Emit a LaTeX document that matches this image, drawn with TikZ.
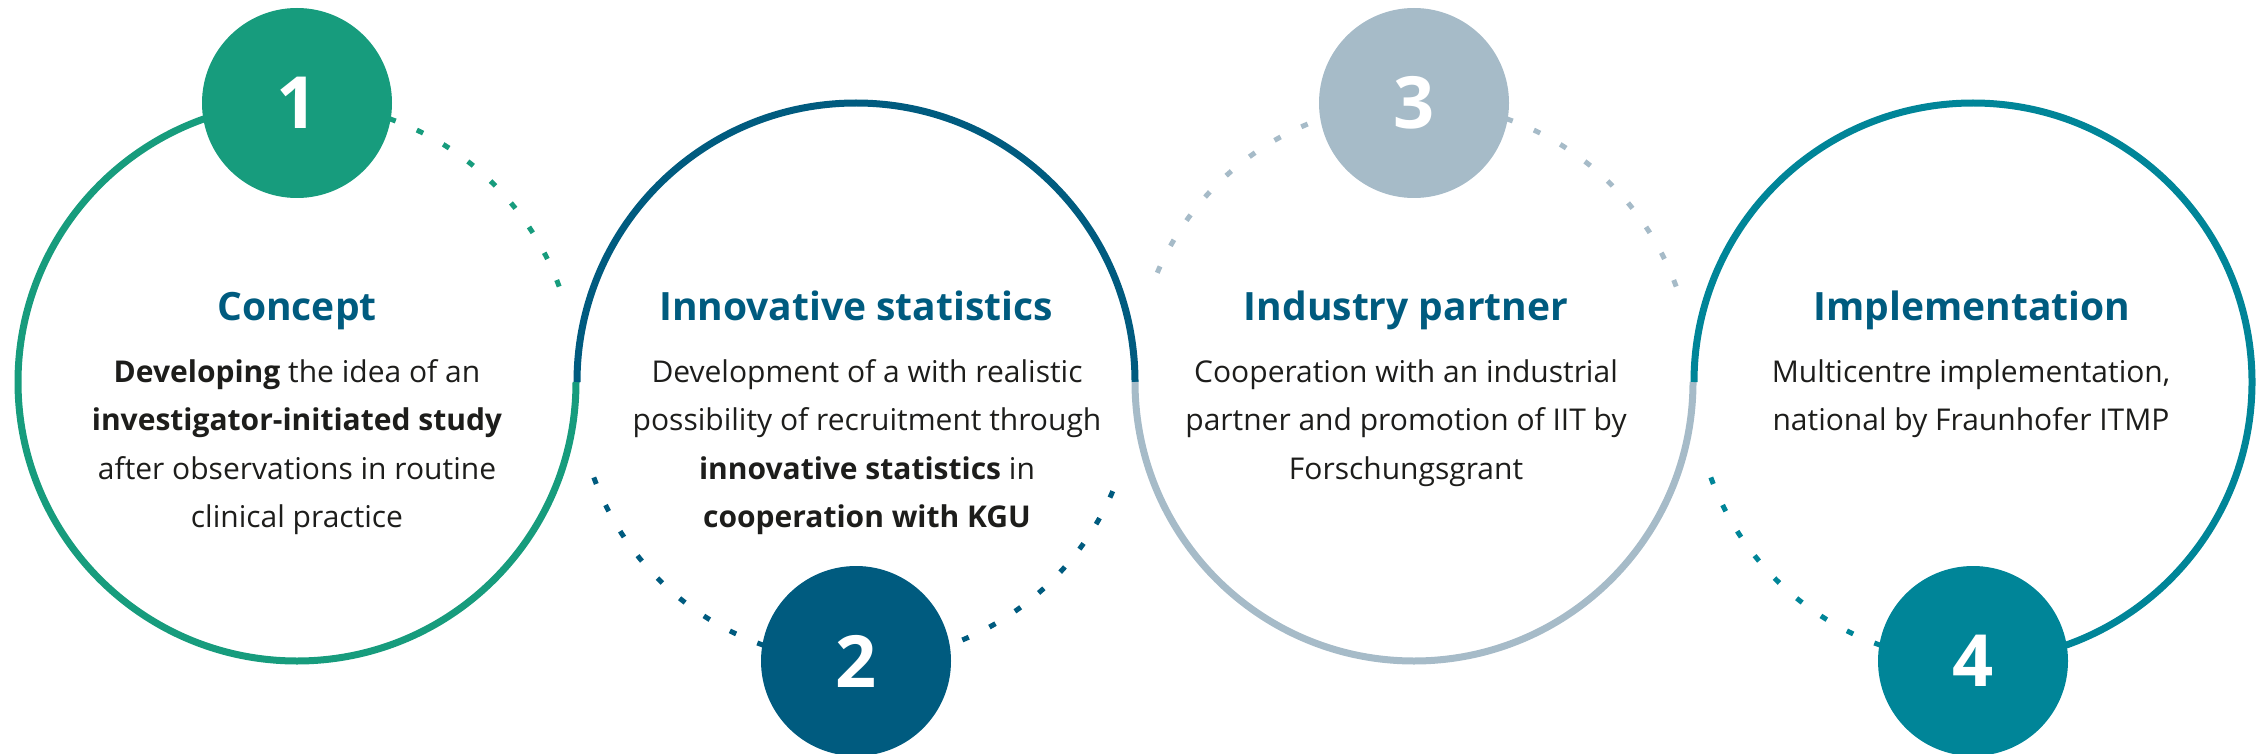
\documentclass[tikz,border=0pt]{standalone}
\usepackage{fontspec}
\setmainfont{Open Sans}
\definecolor{fhgreen}{HTML}{179C7D}
\definecolor{fhblue}{HTML}{005B7F}
\definecolor{fhgrey}{HTML}{A6BBC8}
\definecolor{fhteal}{HTML}{008598}
\definecolor{bodyblack}{HTML}{1D1D1B}
\tikzset{ring/.style={line width=7pt},
ring dots/.style={line width=5pt,dash pattern=on 7pt off 23pt},
badge/.style={circle,minimum size=190pt,inner sep=0pt,text=white,font=\fontsize{72}{72}\selectfont\bfseries},
stage title/.style={anchor=base,inner sep=0pt,text=fhblue,font=\fontsize{39}{39}\selectfont\bfseries},
stage text/.style={anchor=base,align=center,inner sep=0pt,text=bodyblack,font=\fontsize{30}{48.5}\selectfont}}

\begin{document}
\begin{tikzpicture}[x=1pt,y=1pt]
\useasboundingbox (0,0) rectangle (2262,-754);

%% Coordinates of ring centres.
\coordinate (c1) at (297,-382);
\coordinate (c2) at (856,-382);
\coordinate (c3) at (1414,-382);
\coordinate (c4) at (1973,-382);

%% solid arcs
\draw [ring,fhgreen] (c1) ++(90:279pt) arc[start angle=90,end angle=360,radius=279pt];
\draw [ring,fhblue] (c2) ++(180:279pt) arc[start angle=180,end angle=0,radius=279pt];
\draw [ring,fhgrey] (c3) ++(180:279pt) arc[start angle=180,end angle=360,radius=279pt];
\draw [ring,fhteal] (c4) ++(180:279pt) arc[start angle=180,end angle=-90,radius=279pt];

%% dotted arcs
\draw [ring dots,fhgreen] (c1) ++(20:279pt) arc[start angle=20,end angle=90,radius=279pt];
\draw [ring dots,fhblue] (c2) ++(200:279pt) arc[start angle=200,end angle=340,radius=279pt];
\draw [ring dots,fhgrey] (c3) ++(20:279pt) arc[start angle=20,end angle=160,radius=279pt];
\draw [ring dots,fhteal] (c4) ++(200:279pt) arc[start angle=200,end angle=270,radius=279pt];

%% number badges
\node [badge,fill=fhgreen] (b1) at (297,-103) {1};
\node [badge,fill=fhblue] (b2) at (856,-661) {2};
\node [badge,fill=fhgrey] (b3) at (1414,-103) {3};
\node [badge,fill=fhteal] (b4) at (1973,-661) {4};

%% titles
\node [stage title] (t1) at (297,-320) {Concept};
\node [stage title] (t2) at (856,-320) {Innovative statistics};
\node [stage title] (t3) at (1406,-320) {Industry partner};
\node [stage title] (t4) at (1972,-320) {Implementation};

%% texts (base = baseline of the last line)
\node [stage text] (d1) at (297,-527.5) {\textbf{Developing} the idea of an\\\textbf{investigator-initiated study}\\after observations in routine\\clinical practice};
\node [stage text] (d2) at (867,-527.5) {Development of a with realistic\\possibility of recruitment through\\\textbf{innovative statistics} in\\\textbf{cooperation with KGU}};
\node [stage text] (d3) at (1406,-479) {Cooperation with an industrial\\partner and promotion of IIT by\\Forschungsgrant};
\node [stage text] (d4) at (1971,-430.5) {Multicentre implementation,\\national by Fraunhofer ITMP};

\end{tikzpicture}
\end{document}
